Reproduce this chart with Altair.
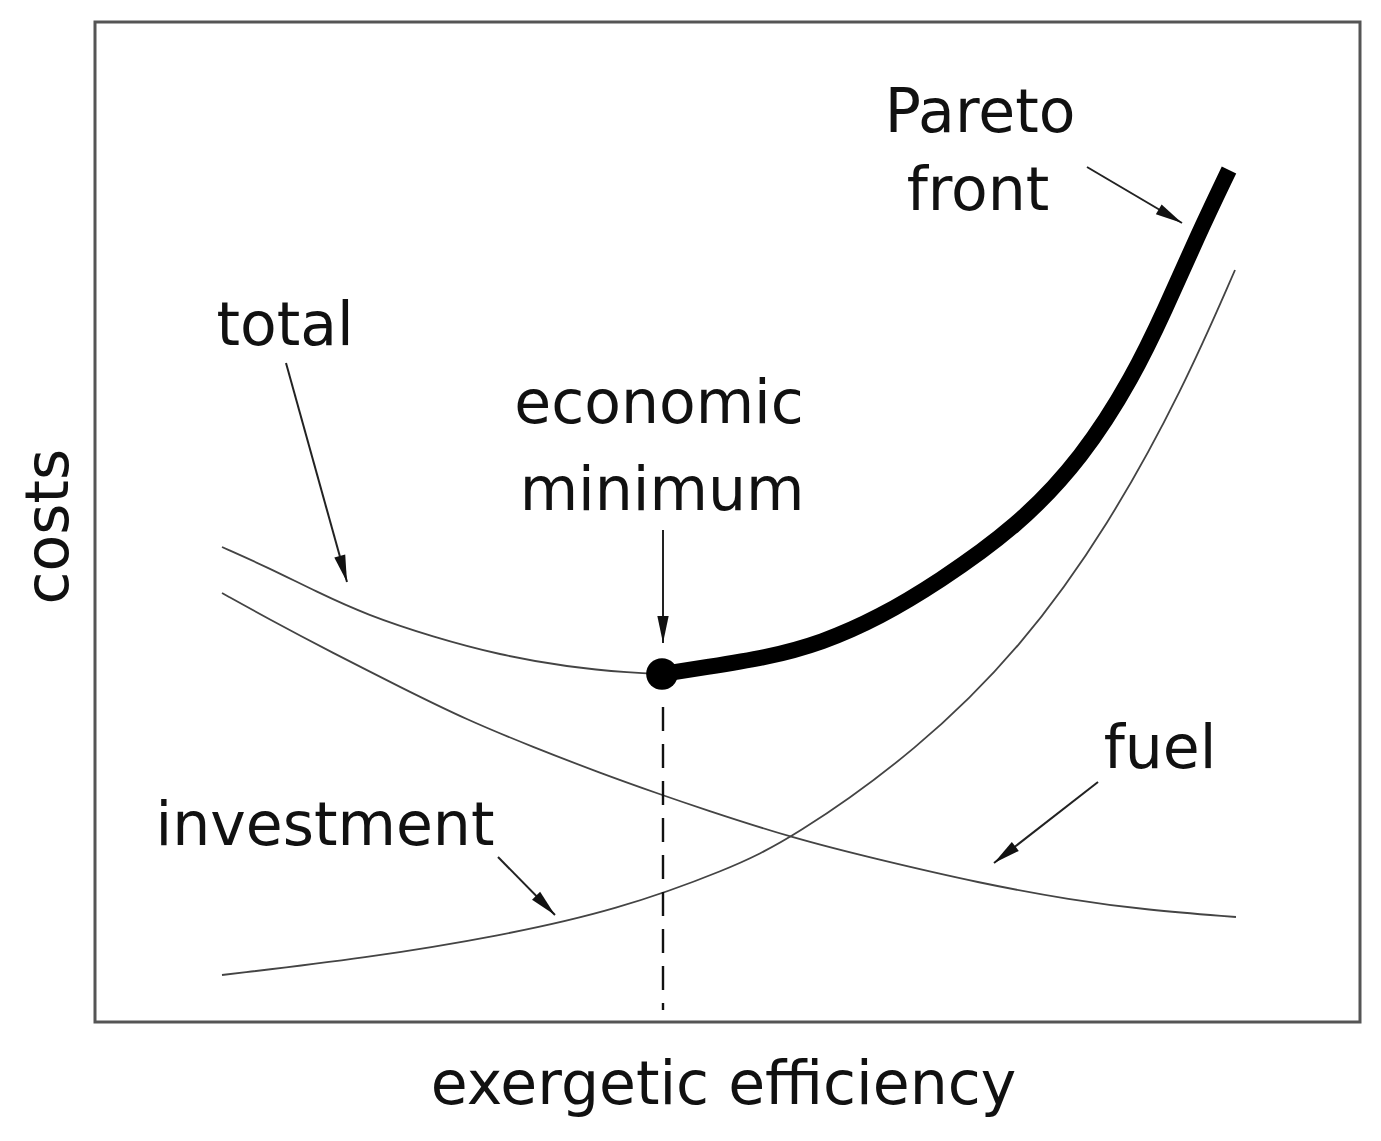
import math
import altair as alt
import pandas as pd

# Values (x = exergetic efficiency, c = costs; arbitrary units)
total_x = [127, 172, 222, 272, 338, 405, 472, 538, 567]
total_c = [475, 455, 430, 407, 385, 367, 355, 349, 348]

fuel_x = [127, 172, 238, 305, 372, 438, 505, 567, 605, 697, 785, 884, 976, 1052, 1141]
fuel_c = [429, 404, 369, 335, 302, 275, 249, 227, 214, 184, 162, 139, 122, 112, 105]

inv_x = [127, 272, 405, 522, 632, 697, 823, 927, 1014, 1088, 1140]
inv_c = [47, 64, 86, 112, 152, 183, 272, 375, 497, 633, 752]

pareto_x = [567, 612, 670, 727, 785, 842, 922, 988, 1038, 1070, 1102, 1134]
pareto_c = [348, 355, 364, 379, 405, 439, 495, 565, 645, 712, 785, 852]

min_x = [567]
min_c = [348]

dash_x = [568]
dash_c0 = [315]
dash_c1 = [12]

arrow_x0 = [191, 568, 403, 1003, 992]
arrow_c0 = [659, 492, 165, 240, 855]
arrow_x1 = [252, 568, 460, 899, 1087]
arrow_c1 = [440, 379, 107, 159, 799]

label_text = ["Pareto", "front", "total", "economic", "minimum", "investment", "fuel"]
label_x = [885, 883, 190, 564, 567, 230, 1065]
label_c = [890, 812, 677, 599, 512, 177, 254]

FONT = "DejaVu Sans"
FS = 60
XDOM = [0, 1265]
YDOM = [0, 1000]

rows = []
for name, xs_, cs_ in [("total", total_x, total_c), ("fuel", fuel_x, fuel_c), ("investment", inv_x, inv_c)]:
    for i, (a, b) in enumerate(zip(xs_, cs_)):
        rows.append({"curve": name, "x": a, "c": b, "o": i})
curves_df = pd.DataFrame(rows)
pareto_df = pd.DataFrame({"x": pareto_x, "c": pareto_c, "o": list(range(len(pareto_x)))})
min_df = pd.DataFrame({"x": min_x, "c": min_c})
dash_df = pd.DataFrame({"x": dash_x, "c": dash_c0, "c2": dash_c1})
arrows_df = pd.DataFrame({"x": arrow_x0, "c": arrow_c0, "x2": arrow_x1, "c2": arrow_c1})
arrows_df["angle"] = [
    (math.degrees(math.atan2(x1 - x0, c1 - c0)) + 360) % 360
    for x0, c0, x1, c1 in zip(arrow_x0, arrow_c0, arrow_x1, arrow_c1)
]
labels_df = pd.DataFrame({"x": label_x, "c": label_c, "text": label_text})

xs = alt.Scale(domain=XDOM, nice=False, zero=False)
ys = alt.Scale(domain=YDOM, nice=False, zero=False)

x_axis = alt.Axis(
    title="exergetic efficiency", domain=False, ticks=False, labels=False, grid=False,
    titleFont=FONT, titleFontSize=FS, titleFontWeight="normal", titleColor="#111",
    titleX=628, titleY=81, titleAlign="center", titleBaseline="alphabetic",
)
y_axis = alt.Axis(
    title="costs", domain=False, ticks=False, labels=False, grid=False,
    titleFont=FONT, titleFontSize=FS, titleFontWeight="normal", titleColor="#111",
    titleX=-28, titleY=504, titleAngle=270, titleAlign="center", titleBaseline="alphabetic",
)


def X(field):
    return alt.X(field, scale=xs, axis=x_axis, title="exergetic efficiency")


def Y(field):
    return alt.Y(field, scale=ys, axis=y_axis, title="costs")


thin = alt.Chart(curves_df).mark_line(color="#444", strokeWidth=1.8, interpolate="basis").encode(
    x=X("x:Q"), y=Y("c:Q"), detail="curve:N", order="o:Q",
)

pareto = alt.Chart(pareto_df).mark_line(color="black", strokeWidth=16, interpolate="basis").encode(
    x=X("x:Q"), y=Y("c:Q"), order="o:Q",
)

dot = alt.Chart(min_df).mark_circle(color="black", size=1000, opacity=1).encode(
    x=X("x:Q"), y=Y("c:Q"),
)

dashed = alt.Chart(dash_df).mark_rule(color="#111", strokeWidth=2.4, strokeDash=[24, 13]).encode(
    x=X("x:Q"), y=Y("c:Q"), y2="c2:Q",
)

arrow_lines = alt.Chart(arrows_df).mark_rule(color="#222", strokeWidth=2).encode(
    x=X("x:Q"), y=Y("c:Q"), x2="x2:Q", y2="c2:Q",
)

arrow_heads = alt.Chart(arrows_df).mark_point(
    shape="M0,0L0.42,2L-0.42,2Z", filled=True, color="#111", size=729, opacity=1
).encode(
    x=X("x2:Q"), y=Y("c2:Q"), angle=alt.Angle("angle:Q", scale=None),
)

labels = alt.Chart(labels_df).mark_text(
    font=FONT, fontSize=FS, color="#111", align="center", baseline="alphabetic"
).encode(
    x=X("x:Q"), y=Y("c:Q"), text="text:N",
)

chart = alt.layer(thin, pareto, dashed, arrow_lines, arrow_heads, dot, labels).properties(
    width=1265,
    height=1000,
    padding={"left": 87, "top": 14, "right": 13, "bottom": 111},
    autosize=alt.AutoSizeParams(type="none"),
    background="white",
).configure_view(stroke="#555", strokeWidth=3)

chart.save("out.html", embed_options={"renderer": "svg", "actions": False})
